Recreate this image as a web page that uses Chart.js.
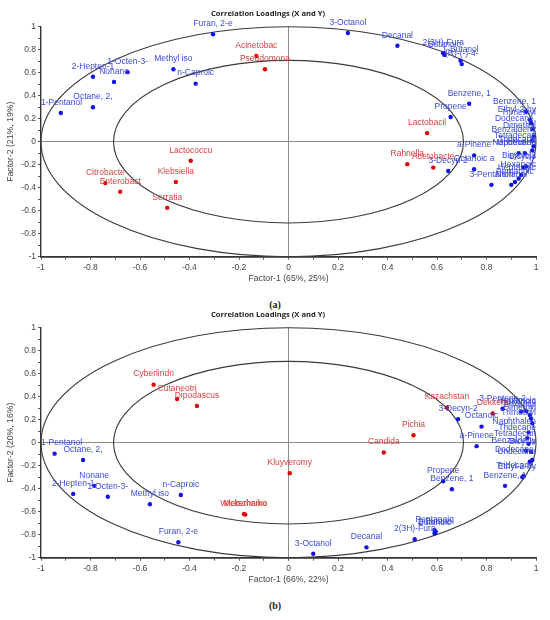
<!DOCTYPE html>
<html lang="en">

<head>
  <meta charset="UTF-8">
  <title>Correlation Loadings</title>
  <script src="https://cdn.jsdelivr.net/npm/chart.js"></script>
  <style>
    body { margin: 0; background: #fff; }
    .panel { position: absolute; left: 0; width: 550px; height: 290px; }
    .caption { position: absolute; left: 0; width: 550px; text-align: center; font: bold 10px "Liberation Serif", serif; color: #222; line-height: 12px; }
  </style>
</head>

<body>
  <div class="panel" style="top:0"><canvas id="chartA" width="550" height="290"></canvas></div>
  <div class="caption" style="top:299px">(a)</div>
  <div class="panel" style="top:301px"><canvas id="chartB" width="550" height="290"></canvas></div>
  <div class="caption" style="top:600px">(b)</div>

  <script>
    const chartTitle = "Correlation Loadings (X and Y)";
    const circleRadii = [1, 0.707];

    // (a) bacteria
    const xTitleA = "Factor-1 (65%, 25%)";
    const yTitleA = "Factor-2 (21%, 19%)";
    const volNamesA = ["1-Pentanol", "Octane, 2,", "2-Hepten-1", "Nonane", "1-Octen-3-", "Methyl iso", "n-Caproic", "Furan, 2-e",
      "3-Octanol", "Decanal", "2(3H)-Fura", "Butanoic", "1-Butanol", "(R)-(-)-4-", "Benzene, 1", "Propene",
      "Benzene, 1", "Ethyl-2-hy", "Trimethyl", "Dodecane,", "Dimethyl", "Benzaldehy", "Tetradecan", "Tridecane",
      "Naphthalen", "Undecane", "a-Pinene", "Bicyclo", "Bicyclo[2", "Octanoic a", "3-Decyn-2", "Hexanoic",
      "Heptanoic", "Pentanoic", "Nonanal", "3-Pentanon"];
    const volXA = [-0.92, -0.79, -0.79, -0.705, -0.65, -0.465, -0.375, -0.305,
      0.24, 0.44, 0.625, 0.63, 0.695, 0.70, 0.73, 0.655,
      0.96, 0.975, 0.98, 0.985, 0.99, 0.985, 0.99, 0.985,
      0.93, 0.955, 0.75, 0.95, 0.96, 0.75, 0.645, 0.94,
      0.93, 0.915, 0.90, 0.82];
    const volYA = [0.25, 0.30, 0.565, 0.52, 0.605, 0.63, 0.505, 0.935,
      0.945, 0.835, 0.77, 0.755, 0.705, 0.675, 0.33, 0.215,
      0.26, 0.19, 0.16, 0.11, 0.045, 0.01, -0.04, -0.075,
      -0.10, -0.10, -0.12, -0.225, -0.215, -0.24, -0.255, -0.29,
      -0.32, -0.35, -0.375, -0.375];
    const micNamesA = ["Acinetobac", "Pseudomona", "Lactococcu", "Klebsiella", "Serratia", "Citrobacte", "Enterobact",
      "Lactobacil", "Rahnella", "Acetobacte"];
    const micXA = [-0.13, -0.095, -0.395, -0.455, -0.49, -0.74, -0.68, 0.56, 0.48, 0.585];
    const micYA = [0.745, 0.63, -0.165, -0.35, -0.575, -0.36, -0.435, 0.075, -0.195, -0.225];

    // (b) yeasts
    const xTitleB = "Factor-1 (66%, 22%)";
    const yTitleB = "Factor-2 (20%, 16%)";
    const volNamesB = ["1-Pentanol", "Octane, 2,", "2-Hepten-1", "Nonane", "1-Octen-3-", "Methyl iso", "n-Caproic", "Furan, 2-e",
      "3-Octanol", "Decanal", "2(3H)-Fura", "Pentanoic", "1-Butanol", "Butanoic", "Propene", "Benzene, 1",
      "Benzene, 1", "Ethyl-2-hy", "Tridecane,", "Undecane", "Dodecane,", "Bicyclo", "Benzaldehy", "Tetradecan",
      "Tridecane", "a-Pinene", "Naphthalen", "Octanoic", "Trimethyl", "3-Decyn-2", "Dimethyl", "2-Methyl",
      "Hexanoic", "Heptanoic", "3-Pentene-2"];
    const volXB = [-0.945, -0.83, -0.87, -0.785, -0.73, -0.56, -0.435, -0.445,
      0.10, 0.315, 0.51, 0.59, 0.595, 0.59, 0.625, 0.66,
      0.875, 0.945, 0.95, 0.975, 0.985, 0.98, 0.96, 0.97,
      0.965, 0.76, 0.97, 0.78, 0.985, 0.685, 0.98, 0.975,
      0.94, 0.96, 0.865];
    const volYB = [-0.095, -0.15, -0.445, -0.375, -0.47, -0.535, -0.455, -0.865,
      -0.965, -0.91, -0.84, -0.76, -0.775, -0.79, -0.335, -0.405,
      -0.375, -0.30, -0.29, -0.165, -0.15, -0.08, -0.07, -0.01,
      0.04, -0.03, 0.09, 0.14, 0.17, 0.205, 0.21, 0.24,
      0.27, 0.275, 0.295];
    const micNamesB = ["Cyberlindn", "Cutaneotri", "Dipodascus", "Kazachstan", "Dekkera", "Pichia", "Candida",
      "Kluyveromy", "Metschniko", "Wickerhamo"];
    const micXB = [-0.545, -0.45, -0.37, 0.64, 0.825, 0.505, 0.385, 0.005, -0.175, -0.18];
    const micYB = [0.505, 0.38, 0.32, 0.305, 0.255, 0.065, -0.085, -0.265, -0.625, -0.62];

    const textFont = '"Liberation Sans", Arial, sans-serif';

    // unit circle and 50% circle, drawn through the scales (ellipses in pixels)
    const loadingCircles = {
      id: 'loadingCircles',
      beforeDatasetsDraw(chart) {
        const { ctx, scales: { x, y } } = chart;
        const cx = x.getPixelForValue(0), cy = y.getPixelForValue(0);
        ctx.save();
        ctx.strokeStyle = '#3a3a3a';
        ctx.lineWidth = 1.1;
        circleRadii.forEach(r => {
          ctx.beginPath();
          ctx.ellipse(cx, cy, x.getPixelForValue(r) - cx, cy - y.getPixelForValue(r), 0, 0, 2 * Math.PI);
          ctx.stroke();
        });
        ctx.restore();
      }
    };

    // name over every point, kept inside the plot box
    const pointNames = {
      id: 'pointNames',
      afterDatasetsDraw(chart) {
        const { ctx, chartArea } = chart;
        ctx.save();
        ctx.font = '8.5px ' + textFont;
        ctx.textAlign = 'center';
        ctx.textBaseline = 'middle';
        chart.data.datasets.forEach((ds, i) => {
          ctx.fillStyle = ds.labelColor;
          chart.getDatasetMeta(i).data.forEach((pt, j) => {
            const text = ds.names[j];
            const half = ctx.measureText(text).width / 2;
            const tx = Math.min(Math.max(pt.x, chartArea.left + half), chartArea.right - half);
            ctx.fillText(text, tx, pt.y - 10.5);
          });
        });
        ctx.restore();
      }
    };

    const tickText = v => {
      const k = Math.round(v * 10);
      return k % 2 === 0 ? String(k / 10) : '';
    };

    function axis(title, isX) {
      return {
        min: -1,
        max: 1,
        afterFit: s => { if (isX) s.height = 33.3; else s.width = 41; },
        ticks: {
          stepSize: 0.1,
          autoSkip: false,
          maxRotation: 0,
          padding: isX ? 3 : 2,
          color: '#444',
          font: { family: textFont, size: 8.5 },
          callback: tickText
        },
        grid: {
          color: c => Math.abs(c.tick.value) < 1e-9 ? '#8c8c8c' : 'rgba(0,0,0,0)',
          tickColor: '#555',
          tickLength: 3,
          lineWidth: 1
        },
        border: { color: '#333', width: isX ? 1.8 : 1.4 },
        title: {
          display: true,
          text: title,
          color: '#444',
          font: { family: textFont, size: 8.7 },
          padding: isX ? { top: 0, bottom: 6.5 } : { top: 5, bottom: 0 }
        }
      };
    }

    function loadingsChart(id, names, xs, ys, mNames, mxs, mys, xTitle, yTitle) {
      return new Chart(document.getElementById(id), {
        type: 'scatter',
        data: {
          datasets: [{
            label: 'X',
            names: names,
            data: xs.map((v, i) => ({ x: v, y: ys[i] })),
            backgroundColor: '#1010e8',
            borderWidth: 0,
            pointRadius: 2.2,
            labelColor: '#3a4bd6'
          }, {
            label: 'Y',
            names: mNames,
            data: mxs.map((v, i) => ({ x: v, y: mys[i] })),
            backgroundColor: '#e00000',
            borderWidth: 0,
            pointRadius: 2.2,
            labelColor: '#d84040'
          }]
        },
        options: {
          responsive: false,
          animation: false,
          layout: { padding: { left: 0, right: 14, top: 0, bottom: 0 } },
          plugins: {
            legend: { display: false },
            tooltip: { enabled: false },
            title: {
              display: true,
              text: chartTitle,
              color: '#222',
              font: { family: '"Open Sans", sans-serif', size: 7.6, weight: 'bold' },
              padding: { top: 9.4, bottom: 8.2 }
            }
          },
          scales: {
            x: axis(xTitle, true),
            y: axis(yTitle, false)
          }
        },
        plugins: [loadingCircles, pointNames]
      });
    }

    loadingsChart("chartA", volNamesA, volXA, volYA, micNamesA, micXA, micYA, xTitleA, yTitleA);
    loadingsChart("chartB", volNamesB, volXB, volYB, micNamesB, micXB, micYB, xTitleB, yTitleB);
  </script>
</body>

</html>
